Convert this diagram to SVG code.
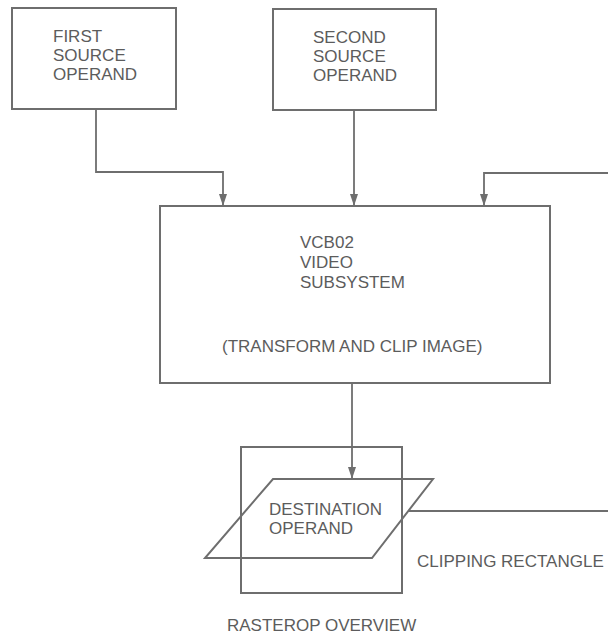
<svg xmlns="http://www.w3.org/2000/svg" width="608" height="634" viewBox="0 0 608 634">
<style>
.box{fill:none;stroke:#6e6e6e;stroke-width:2}
.ln{fill:none;stroke:#6e6e6e;stroke-width:1.8}
.t{font-family:"Liberation Sans",Arial,sans-serif;font-size:17px;fill:#5c5c5c}
</style>
<defs>
<marker id="ah" markerWidth="12" markerHeight="8" refX="12" refY="4" orient="auto" markerUnits="userSpaceOnUse" viewBox="0 0 12 8">
<path d="M0,0 L12,4 L0,8 Z" fill="#6e6e6e"/>
</marker>
</defs>
<rect width="608" height="634" fill="#ffffff"/>
<g id="connectors">
<polyline class="ln" points="96,109 96,172 223,172 223,206" marker-end="url(#ah)"/>
<line class="ln" x1="354" y1="110" x2="354" y2="206" marker-end="url(#ah)"/>
<polyline class="ln" points="608,173 484,173 484,206" marker-end="url(#ah)"/>
<line class="ln" x1="352" y1="383" x2="352" y2="479" marker-end="url(#ah)"/>
<line class="ln" x1="408" y1="511" x2="608" y2="511"/>
</g>
<g id="first-source">
<rect class="box" x="12" y="8" width="164" height="101"/>
<text class="t" x="53" y="42">FIRST</text>
<text class="t" x="53" y="61">SOURCE</text>
<text class="t" x="53" y="80">OPERAND</text>
</g>
<g id="second-source">
<rect class="box" x="273" y="9" width="163" height="101"/>
<text class="t" x="313" y="43">SECOND</text>
<text class="t" x="313" y="62">SOURCE</text>
<text class="t" x="313" y="81">OPERAND</text>
</g>
<g id="video-subsystem">
<rect class="box" x="160" y="206" width="390" height="177"/>
<text class="t" x="300" y="248">VCB02</text>
<text class="t" x="300" y="268">VIDEO</text>
<text class="t" x="300" y="288">SUBSYSTEM</text>
<text class="t" x="222" y="352">(TRANSFORM AND CLIP IMAGE)</text>
</g>
<g id="clipping-rectangle">
<rect class="box" x="241" y="447" width="161" height="146"/>
<text class="t" x="417" y="567">CLIPPING RECTANGLE</text>
</g>
<g id="destination">
<polygon class="box" points="273,479 433,479 372,558 205,558"/>
<text class="t" x="269" y="515">DESTINATION</text>
<text class="t" x="269" y="534">OPERAND</text>
</g>
<g id="caption">
<text class="t" x="227" y="631">RASTEROP OVERVIEW</text>
</g>
</svg>
